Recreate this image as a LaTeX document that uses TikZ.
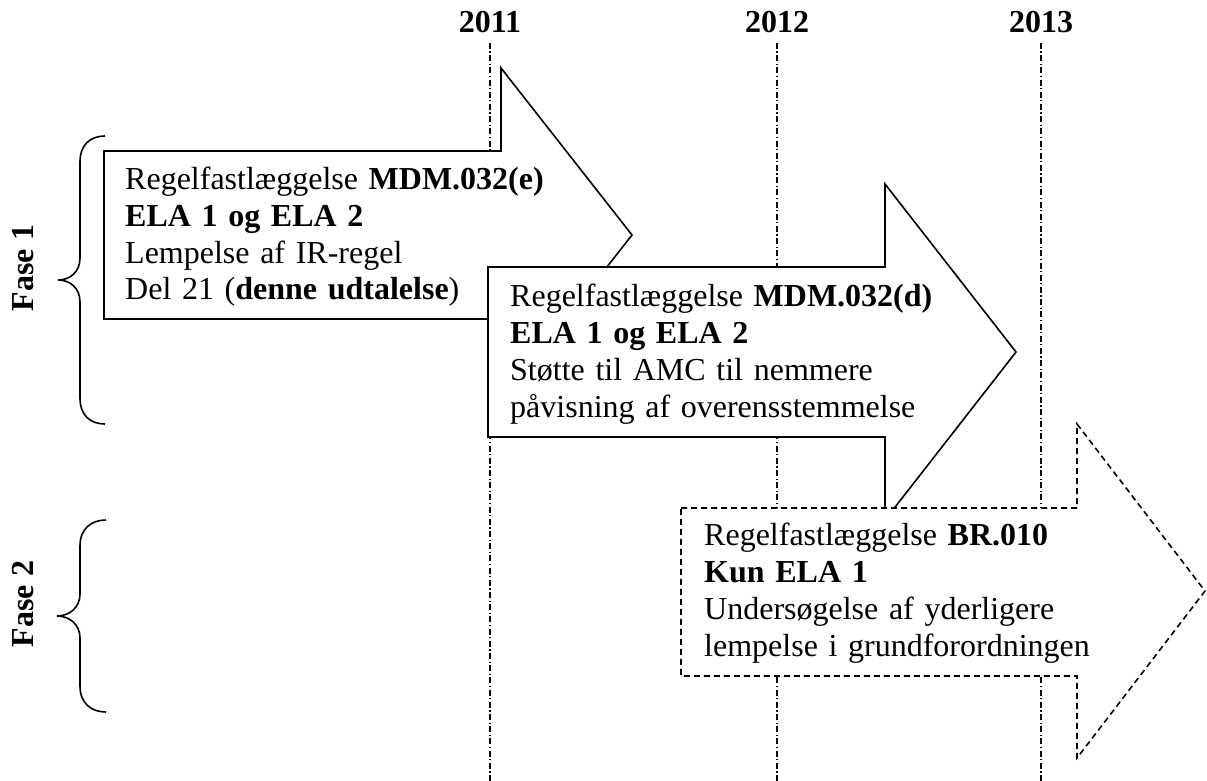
\documentclass[tikz,border=0pt]{standalone}
\usepackage{fontspec}
\setmainfont{Liberation Serif}
\begin{document}
\begin{tikzpicture}[x=1pt,y=-1pt,
  yearline/.style={line width=1.1pt, dash pattern=on 6pt off 2.5pt on 1.2pt off 2.5pt},
  arrowshape/.style={draw, fill=white, line width=1.6pt, line join=miter},
  dashedarrow/.style={arrowshape, dash pattern=on 6pt off 4pt},
  txt/.style={anchor=base west, inner sep=0pt, align=left, text width=540pt, font=\fontsize{32}{37}\selectfont},
  year/.style={font=\fontsize{32}{37}\selectfont\bfseries, inner sep=0pt},
  fase/.style={font=\fontsize{32}{37}\selectfont\bfseries, rotate=90, inner sep=0pt},
  brace/.style={line width=1.6pt}]
\useasboundingbox (0,0) rectangle (1207,781);
\fill[white] (0,0) rectangle (1207,781);

% year labels and lines
\coordinate (bot) at (0,781);
\node[year] (y2011) at (490,22) {2011};
\node[year] (y2012) at (777,22) {2012};
\node[year] (y2013) at (1041,22) {2013};
\foreach \y in {y2011,y2012,y2013}
  \draw[yearline] ([yshift=-10pt]\y.south) -- (\y.south |- bot);

% arrow 1
\draw[arrowshape] (104,151) -- (501,151) -- (501,68) -- (632,235) -- (501,402) -- (501,319) -- (104,319) -- cycle;
\node[txt] (t1) at (125,189) {Regelfastlæggelse \textbf{MDM.032(e)}\\
\textbf{ELA 1 og ELA 2}\\
Lempelse af IR-regel\\
Del 21 (\textbf{denne udtalelse})};

% arrow 2
\draw[arrowshape] (488,267) -- (885,267) -- (885,184) -- (1016,352) -- (885,520) -- (885,437) -- (488,437) -- cycle;
\node[txt] (t2) at (510,306) {Regelfastlæggelse \textbf{MDM.032(d)}\\
\textbf{ELA 1 og ELA 2}\\
Støtte til AMC til nemmere\\
påvisning af overensstemmelse};

% arrow 3 (dashed)
\draw[dashedarrow] (681,508) -- (1077,508) -- (1077,424) -- (1205,591) -- (1077,758) -- (1077,676) -- (681,676) -- cycle;
\node[txt] (t3) at (704,545) {Regelfastlæggelse \textbf{BR.010}\\
\textbf{Kun ELA 1}\\
Undersøgelse af yderligere\\
lempelse i grundforordningen};

% braces and phase labels
\draw[brace] (105,136) .. controls (90,136) and (80,145) .. (80,162) -- (80,258)
  .. controls (80,272) and (70,280) .. (58,280) .. controls (70,280) and (80,288) .. (80,302)
  -- (80,398) .. controls (80,415) and (90,424) .. (105,424);
\node[fase] (f1) at (23,268) {Fase 1};

\draw[brace] (106,520) .. controls (91,520) and (80,529) .. (80,546) -- (80,594)
  .. controls (80,608) and (69,616) .. (57,616) .. controls (69,616) and (80,624) .. (80,638)
  -- (80,686) .. controls (80,703) and (91,712) .. (106,712);
\node[fase] (f2) at (23,604) {Fase 2};
\end{tikzpicture}
\end{document}
